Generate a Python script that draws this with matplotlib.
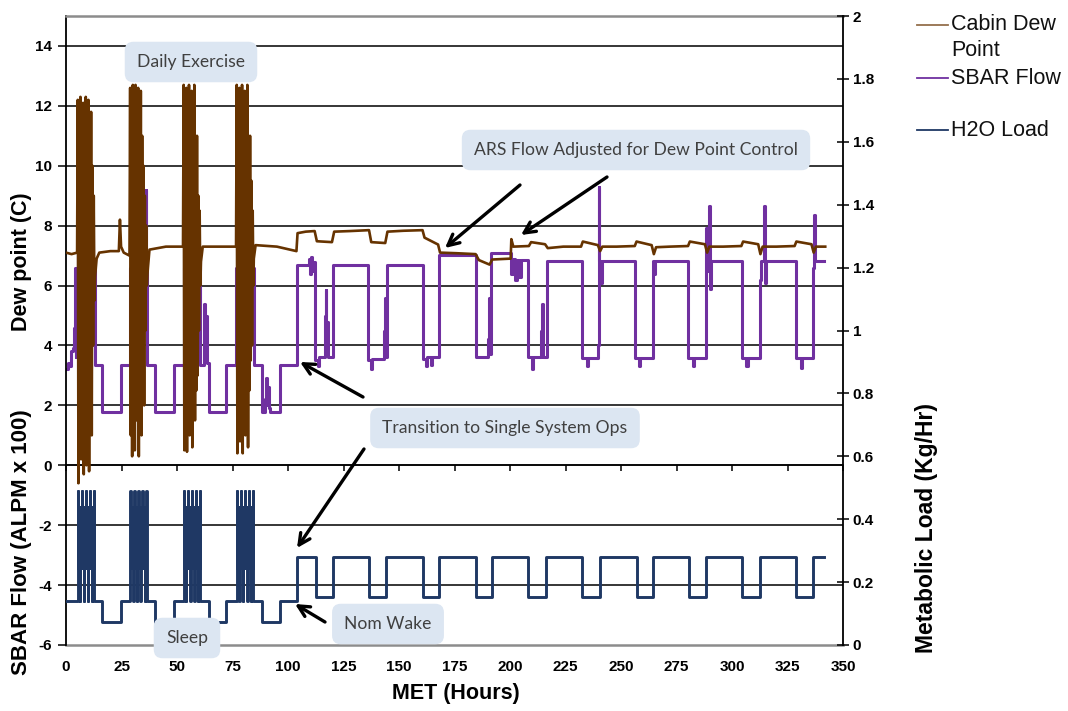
import matplotlib
matplotlib.use("Agg")
import matplotlib.pyplot as plt
from matplotlib.lines import Line2D
import numpy as np

plt.rcParams["font.family"] = ["Liberation Sans", "DejaVu Sans"]

# ---- data (hours, values) ----
# cabin dew point (C), left axis, outside the exercise bursts
dew_t = [0, 2.5, 5.0, 13.1, 13.8, 15.0, 20.0, 23.8, 24.3, 24.8, 26.0, 28.6,
         36.8, 37.6, 45.0, 52.7, 60.8, 61.6, 70.0, 76.6, 84.6, 85.4, 95.0,
         103.8, 104.3, 108.0, 112.0, 113.0, 119.8, 120.8, 128.0, 136.5, 137.5,
         143.8, 144.8, 152.0, 160.6, 161.5, 167.6, 168.5, 176.0, 184.5, 186.0,
         190.8, 192.0, 200.3, 200.6, 201.5, 208.5, 209.5, 215.8, 217.0, 224.0,
         232.0, 232.8, 239.6, 240.6, 241.6, 248.0, 256.2, 257.0, 263.8, 264.8,
         265.8, 272.0, 280.2, 281.0, 287.8, 288.8, 289.8, 296.0, 304.2, 305.0,
         311.8, 312.8, 313.8, 320.0, 328.2, 329.0, 335.8, 336.8, 337.8, 342.0]
dew_v = [7.1, 7.05, 7.1, 6.3, 6.9, 7.1, 7.15, 7.15, 8.2, 7.3, 7.1, 7.0,
         6.5, 7.2, 7.3, 7.3, 6.8, 7.3, 7.3, 7.3, 6.9, 7.35, 7.3,
         7.15, 7.75, 7.8, 7.82, 7.48, 7.45, 7.8, 7.82, 7.85, 7.45,
         7.42, 7.8, 7.83, 7.85, 7.6, 7.37, 7.1, 7.08, 7.05, 6.85,
         6.7, 6.87, 6.9, 7.55, 7.3, 7.32, 7.45, 7.38, 7.25, 7.3,
         7.3, 7.47, 7.35, 7.15, 7.3, 7.3, 7.32, 7.47, 7.35, 7.05,
         7.28, 7.3, 7.32, 7.47, 7.38, 7.1, 7.3, 7.3, 7.32, 7.47,
         7.38, 7.05, 7.3, 7.3, 7.32, 7.47, 7.38, 7.1, 7.3, 7.3]

# daily exercise bursts: start hour, samples every burst_dt hours
exercise_start = [5.3, 28.9, 53.0, 76.9]
burst_dt = 0.3
dew_burst = [
    [12.2, -0.6, 10.5, 1.5, 12.3, 0.2, 9.8, 2.5, 12.1, -0.3, 11.0, 3.0, 12.3,
     0.0, 10.2, 1.8, 12.2, -0.2, 9.5, 2.5, 11.8, 1.0, 10.0, 4.0, 9.0, 5.5],
    [12.6, 1.0, 11.0, 0.3, 12.7, 2.5, 10.5, 0.5, 12.7, 1.5, 11.5, 3.0, 12.6,
     0.3, 10.8, 2.0, 12.5, 1.0, 11.0, 3.5, 10.0, 2.0, 9.0, 4.5, 8.0, 6.0],
    [12.7, 0.5, 11.5, 2.0, 12.6, 0.45, 10.0, 3.0, 12.7, 1.0, 11.0, 2.5, 12.5,
     0.6, 10.5, 3.5, 12.7, 1.5, 9.5, 2.5, 11.0, 3.0, 9.0, 4.5, 8.5, 6.0],
    [12.7, 0.4, 11.0, 2.5, 12.6, 0.8, 10.5, 3.0, 12.7, 0.4, 11.5, 2.0, 12.5,
     1.0, 10.0, 3.5, 12.7, 0.6, 9.8, 2.5, 11.0, 3.5, 9.5, 4.0, 8.5, 6.0],
]
h2o_burst = [
    [0.49, 0.245, 0.44, 0.14, 0.44, 0.245, 0.49, 0.245, 0.44, 0.14, 0.44, 0.245, 0.49,
     0.245, 0.44, 0.14, 0.44, 0.245, 0.49, 0.245, 0.44, 0.14, 0.44, 0.245, 0.49, 0.14],
    [0.49, 0.245, 0.44, 0.245, 0.44, 0.14, 0.49, 0.245, 0.44, 0.245, 0.14, 0.44, 0.49,
     0.245, 0.44, 0.14, 0.44, 0.245, 0.49, 0.245, 0.44, 0.245, 0.14, 0.44, 0.49, 0.14],
    [0.49, 0.245, 0.44, 0.14, 0.44, 0.245, 0.49, 0.245, 0.44, 0.245, 0.14, 0.44, 0.49,
     0.245, 0.44, 0.245, 0.14, 0.44, 0.49, 0.245, 0.44, 0.14, 0.44, 0.245, 0.49, 0.14],
    [0.49, 0.245, 0.44, 0.245, 0.14, 0.44, 0.49, 0.245, 0.44, 0.14, 0.44, 0.245, 0.49,
     0.245, 0.44, 0.245, 0.14, 0.44, 0.49, 0.245, 0.44, 0.14, 0.44, 0.245, 0.49, 0.14],
]

# SBAR flow (ALPM x 100), left axis, step trace
sbar_t = [0, 0.8, 1.5, 2.2, 3.0, 3.6, 4.1, 4.4, 4.6, 4.9, 5.1, 5.4, 5.6, 6.2, 6.5,
          7.2, 7.5, 8.1, 8.4, 9.3, 9.6, 10.5, 10.8, 11.8, 12.0, 12.5, 12.8, 13.1,
          16.4, 24.6, 29.0, 30.5, 31.0, 33.0, 33.3, 36.0, 36.2, 36.7, 40.3, 48.6,
          53.0, 55.5, 55.8, 60.4, 62.0, 62.3, 62.7, 63.1, 63.5, 64.2, 72.2, 76.8,
          84.5, 88.3, 89.8, 90.2, 90.6, 91.0, 91.4, 91.8, 96.6, 104.2, 109.5,
          109.9, 110.3, 110.8, 111.2, 112.2, 113.5, 114.0, 116.5, 116.9, 117.3,
          117.7, 118.1, 120.2, 136.2, 137.5, 138.0, 143.2, 143.6, 144.0, 144.6,
          160.8, 162.0, 162.5, 164.5, 165.0, 168.0, 184.5, 190.2, 190.6, 191.0,
          191.6, 200.5, 201.3, 202.2, 203.0, 204.0, 204.8, 208.2, 210.0, 210.5,
          214.0, 214.4, 214.9, 216.5, 232.5, 234.5, 235.0, 239.8, 240.0, 240.3,
          241.0, 241.3, 256.3, 258.0, 258.4, 264.3, 265.0, 265.3, 280.4, 282.5,
          283.0, 288.5, 288.8, 289.8, 290.1, 290.5, 304.5, 306.5, 307.0, 312.6,
          313.2, 314.6, 314.9, 315.4, 328.8, 331.0, 331.5, 336.4, 337.0, 337.3,
          341.5]
sbar_v = [3.2, 3.4, 3.3, 3.8, 3.9, 4.6, 6.6, 3.6, 6.6, 4.0, 6.6, 9.15, 6.6, 5.8, 6.6,
          5.6, 6.6, 5.9, 6.6, 6.0, 6.6, 6.3, 6.6, 8.0, 6.6, 6.0, 6.6, 3.35,
          1.78, 3.35, 6.6, 6.3, 6.6, 6.2, 6.6, 9.2, 6.6, 3.35, 1.78, 3.35,
          6.6, 6.8, 6.6, 3.35, 4.2, 5.4, 3.5, 5.0, 3.4, 1.78, 3.35, 6.6,
          3.35, 1.78, 2.2, 2.9, 2.0, 2.6, 1.9, 1.78, 3.35, 6.7, 6.9,
          6.4, 6.95, 6.5, 6.8, 3.5, 3.3, 3.6, 5.0, 5.85, 3.7,
          4.8, 3.6, 6.7, 3.5, 3.2, 3.55, 4.5, 5.6, 3.6, 6.7,
          3.55, 3.3, 3.6, 3.35, 3.6, 7.03, 3.6, 4.2, 5.6, 3.7,
          7.1, 6.4, 6.9, 6.2, 6.85, 6.3, 6.85, 3.6, 3.2, 3.6,
          4.5, 5.4, 3.6, 6.83, 3.58, 3.3, 3.58, 4.0, 9.3, 6.83,
          6.1, 6.83, 3.58, 3.3, 3.58, 6.83, 6.4, 6.83, 3.58, 3.3,
          3.58, 7.93, 6.5, 8.65, 5.9, 6.83, 3.58, 3.3, 3.58, 6.2,
          6.83, 8.65, 6.1, 6.83, 3.58, 3.25, 3.58, 6.6, 8.37, 6.83,
          6.83]

# H2O load (kg/hr), right axis, step trace outside the bursts
h2o_t = [0, 16.4, 24.6, 40.3, 48.6, 64.2, 72.1, 88.2, 96.6, 104.2, 112.4, 120.3,
         136.5, 144.3, 160.8, 168.0, 184.5, 192.0, 208.0, 216.0, 232.5, 240.4,
         257.0, 264.3, 280.5, 288.4, 304.7, 312.5, 328.7, 336.6, 341.5]
h2o_v = [0.14, 0.074, 0.14, 0.074, 0.14, 0.074, 0.14, 0.074, 0.14, 0.28, 0.154, 0.28,
         0.154, 0.28, 0.154, 0.28, 0.154, 0.28, 0.154, 0.28, 0.154, 0.28,
         0.154, 0.28, 0.154, 0.28, 0.154, 0.28, 0.154, 0.28, 0.28]

x_ticks = list(range(0, 351, 25))
left_ticks = list(range(-6, 15, 2))
right_ticks = [0, 0.2, 0.4, 0.6, 0.8, 1.0, 1.2, 1.4, 1.6, 1.8, 2.0]

DEW = "#663300"
SBAR = "#7030A0"
H2O = "#1F3864"
GREY = "#8c8c8c"


def merge(base_t, base_v, bursts):
    t = list(base_t)
    v = list(base_v)
    for start, vals in zip(exercise_start, bursts):
        t += [start + burst_dt * i for i in range(len(vals))]
        v += vals
    order = np.argsort(t, kind="stable")
    return np.array(t)[order], np.array(v)[order]


dew_all_t, dew_all_v = merge(dew_t, dew_v, dew_burst)
h2o_all_t, h2o_all_v = merge(h2o_t, h2o_v, h2o_burst)

W, H = 1068, 711
fig = plt.figure(figsize=(W / 100, H / 100), dpi=100)
ax = fig.add_axes([66 / W, 1 - 645 / H, (843 - 66) / W, (645 - 16) / H])

# horizontal gridlines (not at the bottom frame)
for v in left_ticks[1:]:
    ax.axhline(v, color="black", lw=1.1, zorder=0.5)

ax.plot(sbar_t, sbar_v, color=SBAR, lw=2.2, drawstyle="steps-post", zorder=2)
ax.plot(dew_all_t, dew_all_v, color=DEW, lw=1.9, zorder=3)

ax.set_xlim(0, 350)
ax.set_ylim(-6, 15)
ax.set_yticks(left_ticks)
ax.set_yticklabels([str(v) for v in left_ticks], fontweight="bold", fontsize=11)
ax.tick_params(axis="y", direction="out", length=6, width=1.1, pad=4)

ax.spines["bottom"].set_position(("data", 0))
ax.spines["bottom"].set_linewidth(1.1)
ax.spines["left"].set_linewidth(1.3)
ax.spines["right"].set_visible(False)
ax.spines["top"].set_color(GREY)
ax.spines["top"].set_linewidth(1.8)
ax.set_xticks(x_ticks)
ax.tick_params(axis="x", direction="out", length=4, width=1.1, labelbottom=False)

secax = ax.secondary_xaxis("bottom")
secax.set_xticks(x_ticks)
secax.set_xticklabels([str(v) for v in x_ticks], fontweight="bold", fontsize=11)
secax.tick_params(axis="x", length=0, pad=11)
secax.spines["bottom"].set_color(GREY)
secax.spines["bottom"].set_linewidth(1.8)

ax2 = ax.twinx()
ax2.step(h2o_all_t, h2o_all_v, where="post", color=H2O, lw=2.1, zorder=2)
ax2.set_ylim(0, 2)
ax2.set_yticks(right_ticks)
ax2.set_yticklabels([f"{v:g}" for v in right_ticks], fontweight="bold", fontsize=11)
ax2.tick_params(axis="y", direction="inout", length=8, width=1.1, pad=3)
for s in ["top", "bottom", "left"]:
    ax2.spines[s].set_visible(False)
ax2.spines["right"].set_linewidth(1.3)

# axis titles
fig.text(456 / W, 1 - 693 / H, "MET (Hours)", ha="center", va="center",
         fontweight="bold", fontsize=15.5)
fig.text(22 / W, 1 - 262 / H, "Dew point (C)", ha="center", va="center",
         rotation=90, fontweight="bold", fontsize=15.5)
fig.text(22 / W, 1 - 542 / H, "SBAR Flow (ALPM x 100)", ha="center", va="center",
         rotation=90, fontweight="bold", fontsize=16)
fig.text(926 / W, 1 - 528 / H, "Metabolic Load (Kg/Hr)", ha="center", va="center",
         rotation=90, fontweight="bold", fontsize=16.5)

# legend
legend_rows = [("Cabin Dew", DEW, 25), ("Point", None, 51), ("SBAR Flow", SBAR, 78),
               ("H2O Load", H2O, 130)]
for label, color, y in legend_rows:
    if color:
        fig.add_artist(Line2D([917 / W, 948 / W], [1 - y / H, 1 - y / H],
                              color=color, lw=1.3, alpha=0.7 if color == DEW else 1))
    fig.text(951 / W, 1 - y / H, label, ha="left", va="center", fontsize=15.5,
             color="#111111")

# callout boxes
box = dict(boxstyle="round,pad=0.7,rounding_size=0.5", fc="#DCE6F2", ec="none")
callouts = [("Daily Exercise", 191, 62),
            ("ARS Flow Adjusted for Dew Point Control", 636, 150),
            ("Transition to Single System Ops", 505, 428),
            ("Nom Wake", 388, 624),
            ("Sleep", 187, 638)]
for text, x, y in callouts:
    fig.text(x / W, 1 - y / H, text, ha="center", va="center", fontsize=12.6,
             family="Lato", color="#404040", bbox=box, zorder=5)

arrows = [((520, 185), (445, 248)),
          ((607, 177), (521, 235)),
          ((363, 397), (300, 362)),
          ((364, 449), (297, 548)),
          ((325, 622), (295, 604))]
for (tx, ty), (hx, hy) in arrows:
    ax.annotate("", xy=(hx, H - hy), xytext=(tx, H - ty),
                xycoords="figure pixels", textcoords="figure pixels",
                arrowprops=dict(arrowstyle="->,head_length=0.8,head_width=0.4",
                                lw=2.4, color="black", shrinkA=0, shrinkB=0),
                zorder=6)

fig.savefig("out.png", dpi=100)
